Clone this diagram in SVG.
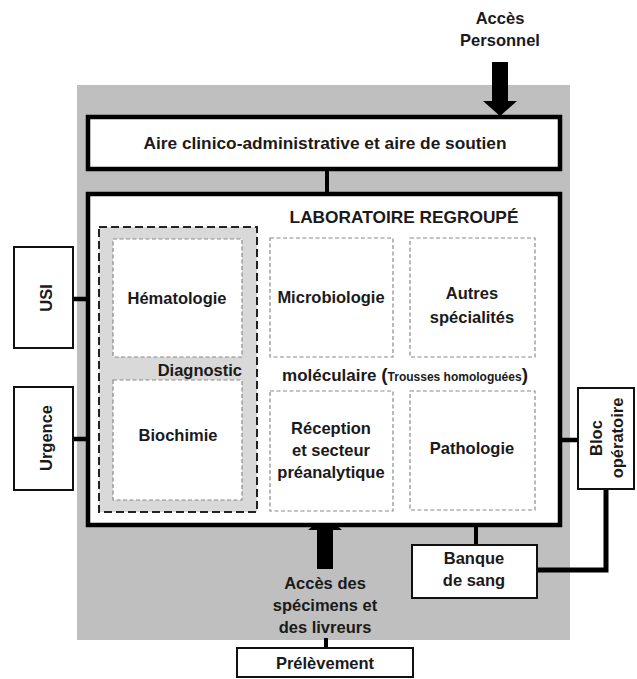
<svg xmlns="http://www.w3.org/2000/svg" width="637" height="679" viewBox="0 0 637 679">
<style>
text{font-family:"Liberation Sans",Arial,sans-serif;font-weight:bold;font-size:16.5px;fill:#1a1a1a;text-anchor:middle}
.t17{font-size:17.3px}
.big{stroke:#000;stroke-width:4.5;fill:#fff}
.ext{stroke:#111;stroke-width:2;fill:#fff}
.sub{stroke:#8a8a8a;stroke-width:1.2;stroke-dasharray:4 2.5;fill:#fff}
.diag{stroke:#222;stroke-width:2;stroke-dasharray:8 4;fill:#d9d9d9}
.con{stroke:#000;fill:none}
</style>
<rect id="bg" x="77" y="85" width="493" height="555" fill="#bfbfbf"/>
<g id="connectors">
<line class="con" x1="327" y1="169" x2="327" y2="194" stroke-width="4"/>
<line class="con" x1="73" y1="299" x2="113" y2="299" stroke-width="4.5"/>
<line class="con" x1="73" y1="439" x2="113" y2="439" stroke-width="4.5"/>
<line class="con" x1="535" y1="440" x2="578" y2="440" stroke-width="4.5"/>
<polyline class="con" points="606,489 606,570 537,570" stroke-width="5"/>
<line class="con" x1="476" y1="524" x2="476" y2="545" stroke-width="4"/>
<line class="con" x1="326" y1="638" x2="326" y2="648" stroke-width="4"/>
<polygon points="492,62 508,62 508,101 517,101 500,116 483,101 492,101" fill="#000"/>
<polygon points="317,569 333,569 333,530 342,530 325,516 308,530 317,530" fill="#000"/>
</g>
<g id="aire"><rect class="big" x="88" y="117" width="472" height="52"/><text class="t17" x="325" y="149">Aire clinico-administrative et aire de soutien</text></g>
<g id="labo"><rect class="big" x="88" y="194" width="472" height="331"/><text class="t17" x="404" y="223">LABORATOIRE REGROUPÉ</text></g>
<g id="diagnostic"><rect class="diag" x="99" y="227" width="158" height="285"/><text x="242" y="376" style="text-anchor:end">Diagnostic</text></g>
<g id="hematologie"><rect class="sub" x="113" y="239" width="129" height="118"/><text x="177" y="304">Hématologie</text></g>
<g id="biochimie"><rect class="sub" x="113" y="380" width="129" height="120"/><text x="178" y="441">Biochimie</text></g>
<g id="microbiologie"><rect class="sub" x="270" y="238" width="123" height="119"/><text x="331" y="303">Microbiologie</text></g>
<g id="autres"><rect class="sub" x="410" y="238" width="125" height="119"/><text x="472" y="299">Autres</text><text x="472" y="323">spécialités</text></g>
<g id="moleculaire"><text x="405" y="381" style="font-size:17px">moléculaire <tspan style="font-size:19px">(</tspan><tspan style="font-size:12px">Trousses homologuées</tspan><tspan style="font-size:19px">)</tspan></text></g>
<g id="reception"><rect class="sub" x="270" y="391" width="123" height="120"/><text x="331" y="434">Réception</text><text x="331" y="456">et secteur</text><text x="331" y="478">préanalytique</text></g>
<g id="pathologie"><rect class="sub" x="410" y="391" width="125" height="119"/><text x="472" y="454">Pathologie</text></g>
<g id="usi"><rect class="ext" x="14" y="247" width="59" height="101"/><text transform="translate(52,298) rotate(-90)">USI</text></g>
<g id="urgence"><rect class="ext" x="14" y="387" width="59" height="103"/><text transform="translate(52,438) rotate(-90)">Urgence</text></g>
<g id="bloc"><rect class="ext" x="578" y="388" width="56" height="101"/><text transform="translate(602,438) rotate(-90)">Bloc</text><text transform="translate(623,438) rotate(-90)">opératoire</text></g>
<g id="banque"><rect class="ext" x="412" y="545" width="125" height="53"/><text x="474" y="564">Banque</text><text x="474" y="586">de sang</text></g>
<g id="acces-personnel"><text x="500" y="24">Accès</text><text x="500" y="46">Personnel</text></g>
<g id="acces-specimens"><text x="325" y="589">Accès des</text><text x="325" y="611">spécimens et</text><text x="325" y="633">des livreurs</text></g>
<g id="prelevement"><rect class="ext" x="237" y="648" width="176" height="29"/><text x="325" y="669">Prélèvement</text></g>
</svg>
